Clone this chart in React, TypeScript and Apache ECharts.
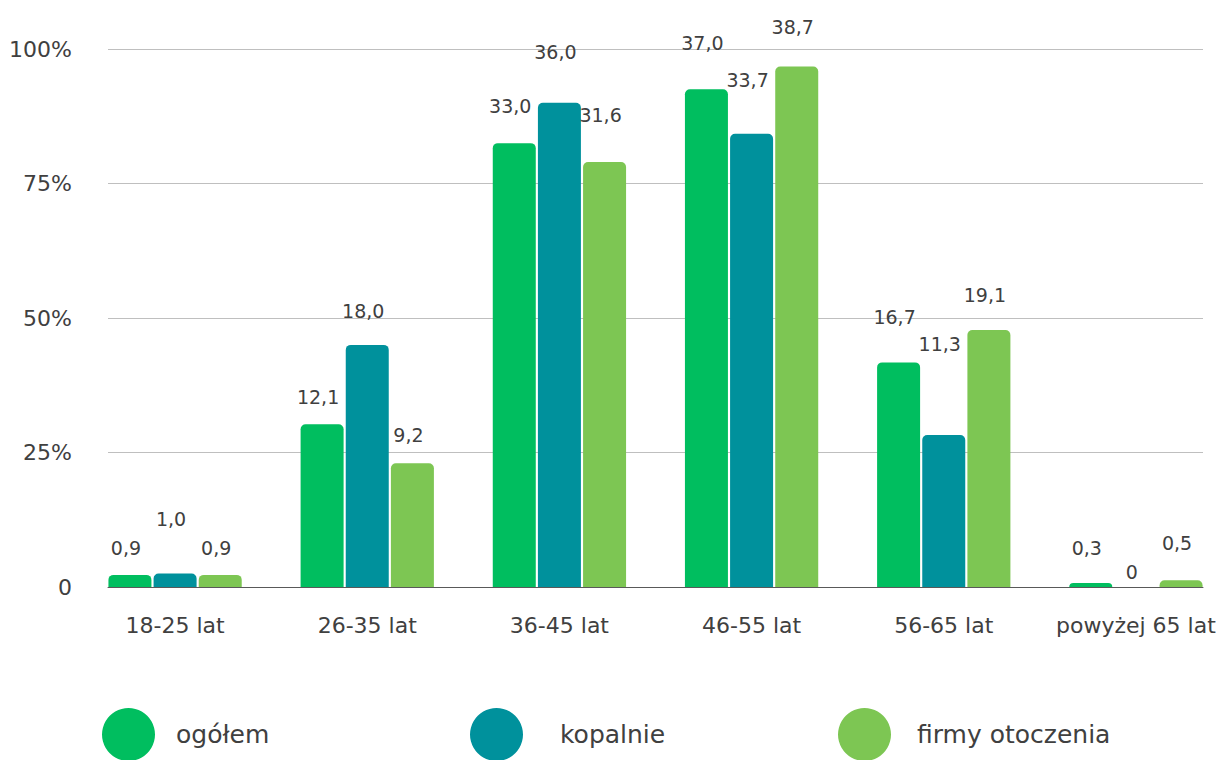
import React, { useEffect, useRef } from "react";
import * as echarts from "echarts";

const categories = ["18-25 lat", "26-35 lat", "36-45 lat", "46-55 lat", "56-65 lat", "powyżej 65 lat"];
const seriesNames = ["ogółem", "kopalnie", "firmy otoczenia"];
const ogolem = [0.9, 12.1, 33.0, 37.0, 16.7, 0.3];
const kopalnie = [1.0, 18.0, 36.0, 33.7, 11.3, 0];
const firmy = [0.9, 9.2, 31.6, 38.7, 19.1, 0.5];
const yTickLabels = ["0", "25%", "50%", "75%", "100%"];
const yMax = 40;
const yInterval = 10;

// label lift above bar top (styling only)
const ogolemLift = [27, 27, 37, 46, 45, 35];
const kopalnieLift = [55, 34, 51, 54, 91, 15];
const firmyLift = [27, 28, 47, 39, 35, 37];

const colors = ["#00BE5F", "#00919C", "#7DC653"];
const FONT = "DejaVu Sans";
const TEXT = "#404040";

const fmt = (v: number) => (v === 0 ? "0" : v.toFixed(1).replace(".", ","));

function makeSeries(name: string, values: number[], lifts: number[], color: string) {
  return {
    name,
    type: "bar",
    xAxisIndex: 1,
    yAxisIndex: 1,
    barWidth: 43,
    barGap: "5%",
    itemStyle: { color, borderRadius: [5, 5, 0, 0] },
    label: {
      show: true,
      position: "top",
      verticalAlign: "middle",
      offset: [-4, 0],
      fontFamily: FONT,
      fontSize: 19,
      color: TEXT,
      formatter: (p: any) => fmt(p.value),
    },
    data: values.map((v, i) => ({ value: v, label: { distance: lifts[i] } })),
  };
}

export default function App() {
  const ref = useRef<HTMLDivElement>(null);
  useEffect(() => {
    const chart = echarts.init(ref.current!, null, { renderer: "svg" });
    const legendPos = [
      { left: 102, pad: 16 },
      { left: 470, pad: 32 },
      { left: 838, pad: 21 },
    ];
    chart.setOption({
      animation: false,
      backgroundColor: "#ffffff",
      color: colors,
      grid: [
        { left: 108, width: 1095, top: 49, height: 538 },
        { left: 79, width: 1153, top: 49, height: 538 },
      ],
      xAxis: [
        {
          type: "category",
          gridIndex: 0,
          data: categories,
          axisLine: { show: true, lineStyle: { color: "#595959", width: 1 } },
          axisTick: { show: false },
          axisLabel: { show: false },
        },
        {
          type: "category",
          gridIndex: 1,
          data: categories,
          axisLine: { show: false },
          axisTick: { show: false },
          axisLabel: {
            interval: 0,
            margin: 27,
            fontFamily: FONT,
            fontSize: 22,
            color: TEXT,
            offset: [-4, 0],
          },
        },
      ],
      yAxis: [
        {
          type: "value",
          gridIndex: 0,
          min: 0,
          max: yMax,
          interval: yInterval,
          axisLine: { show: false },
          axisTick: { show: false },
          splitLine: { lineStyle: { color: "#BFBFBF", width: 1 } },
          axisLabel: {
            margin: 36,
            fontFamily: FONT,
            fontSize: 22,
            color: TEXT,
            formatter: (v: number) => yTickLabels[Math.round(v / yInterval)] ?? "",
          },
        },
        {
          type: "value",
          gridIndex: 1,
          min: 0,
          max: yMax,
          show: false,
          splitLine: { show: false },
        },
      ],
      legend: seriesNames.map((n, i) => ({
        data: [n],
        left: legendPos[i].left,
        top: 708,
        padding: 0,
        icon: "circle",
        itemWidth: 53,
        itemHeight: 53,
        selectedMode: false,
        textStyle: {
          fontFamily: FONT,
          fontSize: 25,
          color: TEXT,
          padding: [0, 0, 0, legendPos[i].pad],
        },
      })),
      series: [
        makeSeries(seriesNames[0], ogolem, ogolemLift, colors[0]),
        makeSeries(seriesNames[1], kopalnie, kopalnieLift, colors[1]),
        makeSeries(seriesNames[2], firmy, firmyLift, colors[2]),
      ],
    });
    return () => chart.dispose();
  }, []);
  return (
    <div
      ref={ref}
      style={{ position: "fixed", left: 0, top: 0, width: 1240, height: 760, background: "#fff" }}
    />
  );
}
